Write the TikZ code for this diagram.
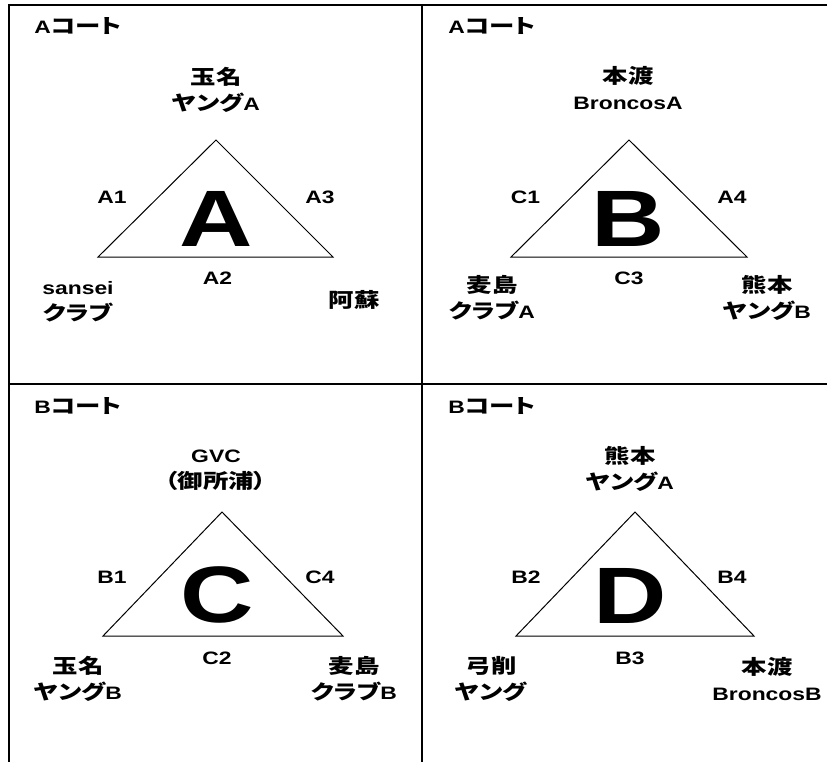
\documentclass[tikz,border=0pt]{standalone}
\usepackage{fontspec}
\setmainfont{Liberation Sans}[FakeStretch=1.27]
\newfontfamily\jp{Noto Sans CJK JP}[FakeStretch=1.27,Scale=1.11,RawFeature=+palt]

\begin{document}
\begin{tikzpicture}[x=1pt,y=-1pt,
    every node/.style={inner sep=0pt,align=center,font=\bfseries\fontsize{18}{26}\selectfont},
    big/.style={font=\bfseries\fontsize{80}{80}\selectfont},
    frame/.style={line width=2pt},
    tri/.style={line width=1pt,line join=miter}]
  \useasboundingbox (0,0) rectangle (827,762);
  % frame
  \coordinate (tl) at (8.5,5.3);   \coordinate (tr) at (827,5.3);
  \coordinate (bl) at (8.5,762);
  \coordinate (mt) at (422,5.3);   \coordinate (mb) at (422,762);
  \coordinate (ml) at (8.5,383.7); \coordinate (mr) at (827,383.7);
  \draw[frame] (tr) -- (tl) -- (bl);
  \draw[frame] (mt) -- (mb);
  \draw[frame] (ml) -- (mr);

  % group A
  \node (A-title) at (78,26) {A{\jp コート}};
  \node (A-top) at (216,90) {{\jp 玉名}\\{\jp ヤング}A};
  \coordinate (A-apex) at (216,140);
  \coordinate (A-left) at (98,257);
  \coordinate (A-right) at (333,257);
  \draw[tri] (A-apex) -- (A-left) -- (A-right) -- cycle;
  \node[big] (A-big) at (216,218.5) {A};
  \node (A-e1) at (112,197) {A1};
  \node (A-e3) at (320,197) {A3};
  \node (A-e2) at (217.5,278) {A2};
  \node (A-l) at (78,302) {sansei\\{\jp クラブ}};
  \node (A-r) at (354,300) {{\jp 阿蘇}};

  % group B
  \node (B-title) at (492,26) {A{\jp コート}};
  \node (B-top) at (628,88.5) {{\jp 本渡}\\BroncosA};
  \coordinate (B-apex) at (629,140);
  \coordinate (B-left) at (511,257);
  \coordinate (B-right) at (747,257);
  \draw[tri] (B-apex) -- (B-left) -- (B-right) -- cycle;
  \node[big] (B-big) at (628,218.5) {B};
  \node (B-e1) at (525.5,197) {C1};
  \node (B-e3) at (732,197) {A4};
  \node (B-e2) at (629,278) {C3};
  \node (B-l) at (492,298) {{\jp 麦島}\\{\jp クラブ}A};
  \node (B-r) at (767,298) {{\jp 熊本}\\{\jp ヤング}B};

  % group C
  \node (C-title) at (78,406.5) {B{\jp コート}};
  \node (C-top) at (216,470.5) {GVC\\{\jp （御所浦）}};
  \coordinate (C-apex) at (222,512);
  \coordinate (C-left) at (103,636);
  \coordinate (C-right) at (343,636);
  \draw[tri] (C-apex) -- (C-left) -- (C-right) -- cycle;
  \node[big] (C-big) at (217,595) {C};
  \node (C-e1) at (112,577) {B1};
  \node (C-e3) at (320,577) {C4};
  \node (C-e2) at (217,658) {C2};
  \node (C-l) at (78,679) {{\jp 玉名}\\{\jp ヤング}B};
  \node (C-r) at (354,679) {{\jp 麦島}\\{\jp クラブ}B};

  % group D
  \node (D-title) at (492,406.5) {B{\jp コート}};
  \node (D-top) at (630,469) {{\jp 熊本}\\{\jp ヤング}A};
  \coordinate (D-apex) at (635,512);
  \coordinate (D-left) at (516,636);
  \coordinate (D-right) at (754,636);
  \draw[tri] (D-apex) -- (D-left) -- (D-right) -- cycle;
  \node[big] (D-big) at (630,596) {D};
  \node (D-e1) at (526,577) {B2};
  \node (D-e3) at (732,577) {B4};
  \node (D-e2) at (630,658) {B3};
  \node (D-l) at (491,679) {{\jp 弓削}\\{\jp ヤング}};
  \node (D-r) at (767,679) {{\jp 本渡}\\BroncosB};
\end{tikzpicture}
\end{document}
